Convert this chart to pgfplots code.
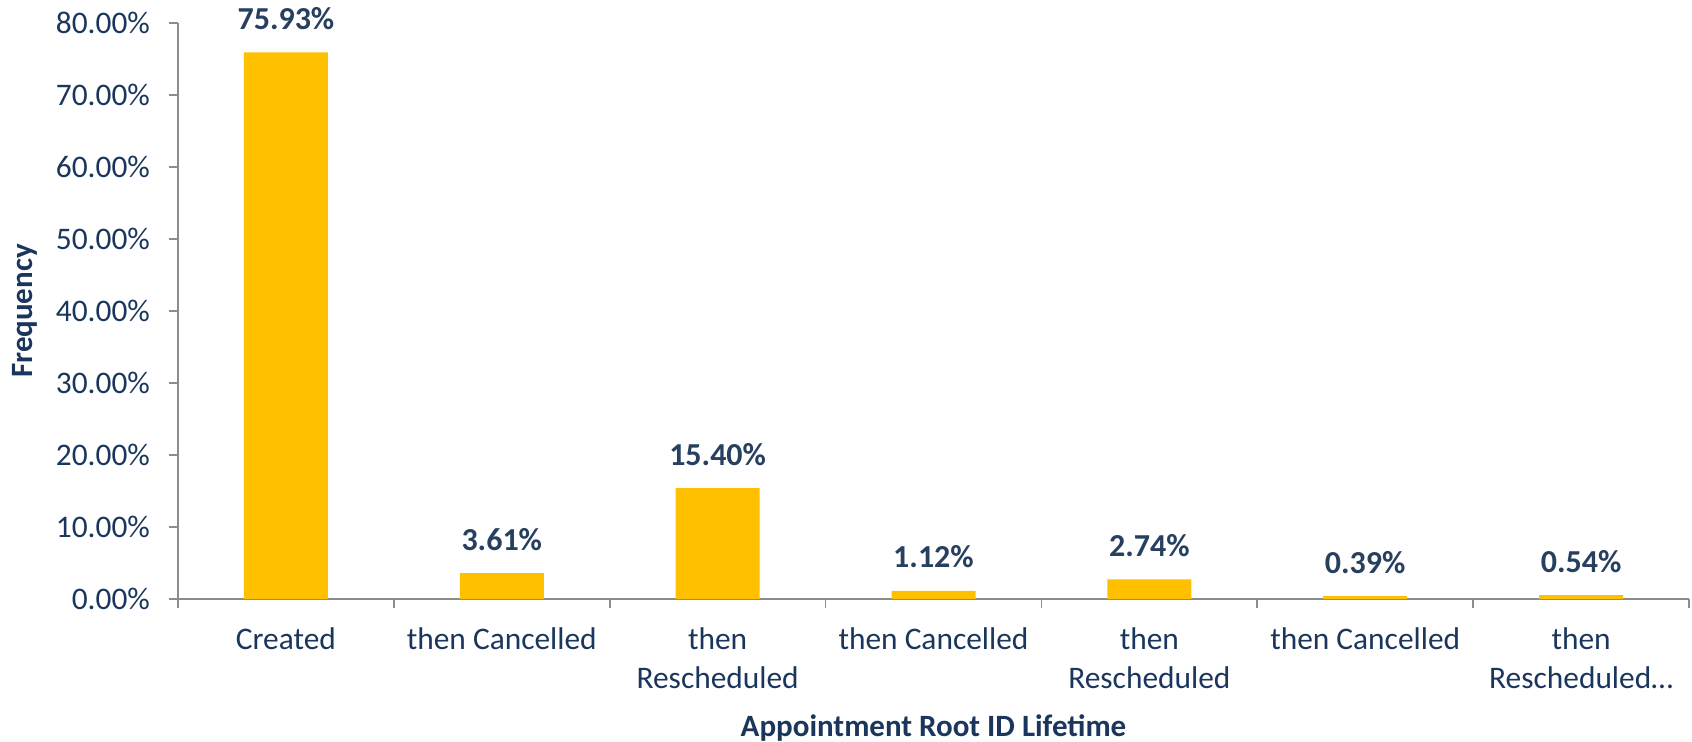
\documentclass[border=0pt]{standalone}
\usepackage{pgfplots}
\pgfplotsset{compat=1.18}
\usepackage{fontspec}
\setmainfont{Carlito}
\definecolor{bar}{HTML}{FFC000}
\definecolor{navy}{HTML}{1B365D}
\definecolor{lab}{HTML}{27405F}
\definecolor{axgray}{HTML}{8C8C8C}
\begin{document}
\begin{tikzpicture}
\path[use as bounding box] (-89pt,-71.5pt) rectangle (757pt,299.5pt);
\begin{axis}[
  at={(0,0)}, anchor=south west,
  scale only axis, width=755.5pt, height=288pt,
  xmin=-0.5, xmax=6.5, ymin=0, ymax=80,
  axis x line*=bottom, axis y line*=left,
  x axis line style={-,draw=axgray,line width=0.9pt},
  y axis line style={-,draw=axgray,line width=0.9pt},
  xtick={0,...,6},
  xticklabels={Created,then Cancelled,then\\Rescheduled,then Cancelled,then\\Rescheduled,then Cancelled,then\\Rescheduled\ldots},
  xticklabel style={align=center,font=\fontsize{15.7}{19.5}\selectfont,text=navy,anchor=north,yshift=-6.5pt},
  major x tick style={draw=none},
  minor xtick={-0.5,0.5,...,6.5},
  minor x tick style={draw=axgray,line width=0.9pt},
  minor tick length=4.5pt,
  ytick={0,10,...,80},
  yticklabels={0.00\%,10.00\%,20.00\%,30.00\%,40.00\%,50.00\%,60.00\%,70.00\%,80.00\%},
  yticklabel style={font=\fontsize{15.7}{18}\selectfont,text=navy,xshift=-6pt},
  major y tick style={draw=axgray,line width=0.9pt},
  major tick length=4.5pt,
  tick align=outside,
  xlabel={\bfseries Appointment Root ID Lifetime},
  xlabel style={font=\fontsize{15.5}{18}\selectfont,text=navy,anchor=base,at={(rel axis cs:0.5,0)},yshift=-69pt},
  ylabel={\bfseries Frequency},
  ylabel style={font=\fontsize{15.5}{18}\selectfont,text=navy,anchor=center,at={(rel axis cs:0,0.5)},xshift=0pt,yshift=76.5pt},
  clip=false,
]
\addplot[ybar, bar width=42pt, fill=bar, draw=none,
  point meta=explicit symbolic,
  nodes near coords,
  every node near coord/.style={font=\fontsize{16}{18}\selectfont\bfseries,text=lab,anchor=base,inner sep=0pt,yshift=11.5pt}]
coordinates {
(0,75.93) [75.93\%]
(1,3.61) [3.61\%]
(2,15.40) [15.40\%]
(3,1.12) [1.12\%]
(4,2.74) [2.74\%]
(5,0.39) [0.39\%]
(6,0.54) [0.54\%]
};
\end{axis}
\end{tikzpicture}
\end{document}
